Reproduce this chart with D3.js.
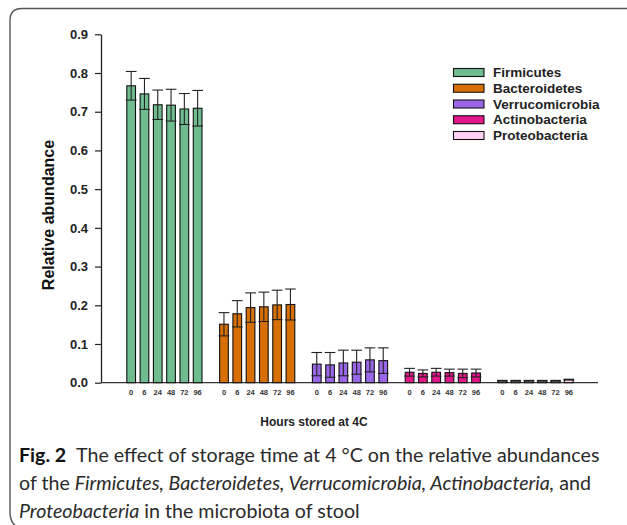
<!DOCTYPE html>
<html>
<head>
<meta charset="utf-8">
<script src="https://cdn.jsdelivr.net/npm/d3@7"></script>
<style>
  html, body { margin: 0; padding: 0; background: #fff; }
  svg { display: block; }
</style>
</head>
<body>
<svg id="chart" width="627" height="525"></svg>
<script>
// ---------- data ----------
const phyla = ["Firmicutes", "Bacteroidetes", "Verrucomicrobia", "Actinobacteria", "Proteobacteria"];
const hours = ["0", "6", "24", "48", "72", "96"];
const firmicutes      = [0.767, 0.746, 0.718, 0.717, 0.707, 0.709];
const firmicutesErr   = [0.037, 0.040, 0.038, 0.041, 0.040, 0.046];
const bacteroidetes   = [0.151, 0.178, 0.194, 0.196, 0.201, 0.202];
const bacteroidetesErr= [0.030, 0.034, 0.038, 0.038, 0.038, 0.040];
const verruco         = [0.048, 0.046, 0.051, 0.053, 0.059, 0.057];
const verrucoErr      = [0.030, 0.032, 0.033, 0.031, 0.031, 0.033];
const actino          = [0.027, 0.024, 0.027, 0.026, 0.024, 0.025];
const actinoErr       = [0.010, 0.009, 0.010, 0.009, 0.011, 0.010];
const proteo          = [0.005, 0.005, 0.005, 0.005, 0.005, 0.008];
const proteoErr       = [0.001, 0.001, 0.001, 0.001, 0.001, 0.001];
const yTicks = [0, 0.1, 0.2, 0.3, 0.4, 0.5, 0.6, 0.7, 0.8, 0.9];
const colors = ["#6fbd8f", "#d86f05", "#9a66e8", "#e3168a", "#ffd2f6"];

const values = [firmicutes, bacteroidetes, verruco, actino, proteo];
const errors = [firmicutesErr, bacteroidetesErr, verrucoErr, actinoErr, proteoErr];
const rows = [];
phyla.forEach((p, i) => hours.forEach((h, j) => rows.push({phylum: p, hour: h, v: values[i][j], e: errors[i][j], c: colors[i]})));

// ---------- layout ----------
const svg = d3.select("#chart");
const font = "'Liberation Sans', Arial, sans-serif";

// frame
svg.append("path")
  .attr("d", "M627,8.5 H22 Q10,8.5 10,20.5 V512 Q10,522 16,526")
  .attr("fill", "none").attr("stroke", "#555").attr("stroke-width", 1.4);

const y = d3.scaleLinear().domain([0, 0.9]).range([382.7, 34.3]);
const xg = d3.scaleBand().domain(phyla).range([118, 582]).paddingInner(0.19).paddingOuter(0.095);
const xi = d3.scaleBand().domain(hours).range([0, xg.bandwidth()]).paddingInner(0.346).paddingOuter(0);

// y axis
const yAxis = svg.append("g").attr("transform", "translate(101,0)")
  .call(d3.axisLeft(y).tickValues(yTicks).tickFormat(d3.format(".1f")).tickSize(6).tickPadding(7).tickSizeOuter(0));
yAxis.select(".domain").attr("stroke", "#222").attr("stroke-width", 1.3);
yAxis.selectAll(".tick line").attr("stroke", "#222").attr("stroke-width", 1.2);
yAxis.selectAll(".tick text").attr("font-family", font).attr("font-size", 13).attr("font-weight", "bold").attr("fill", "#222");

// x axis line
svg.append("line").attr("x1", 101).attr("x2", 598).attr("y1", y(0)).attr("y2", y(0))
  .attr("stroke", "#333").attr("stroke-width", 1.3);

// bars
const bars = svg.append("g");
bars.selectAll("rect").data(rows).join("rect")
  .attr("x", d => xg(d.phylum) + xi(d.hour))
  .attr("width", xi.bandwidth())
  .attr("y", d => y(d.v))
  .attr("height", d => y(0) - y(d.v))
  .attr("fill", d => d.c)
  .attr("stroke", "#111").attr("stroke-width", 1.1);

// error bars
const eb = svg.append("g").attr("stroke", "#222").attr("stroke-width", 1.1);
rows.forEach(d => {
  const cx = xg(d.phylum) + xi(d.hour) + xi.bandwidth() / 2;
  const hw = xi.bandwidth() / 2 + 1;
  eb.append("line").attr("x1", cx).attr("x2", cx).attr("y1", y(d.v + d.e)).attr("y2", y(Math.max(0, d.v - d.e)));
  eb.append("line").attr("x1", cx - hw).attr("x2", cx + hw).attr("y1", y(d.v + d.e)).attr("y2", y(d.v + d.e));
  eb.append("line").attr("x1", cx - hw).attr("x2", cx + hw).attr("y1", y(Math.max(0, d.v - d.e))).attr("y2", y(Math.max(0, d.v - d.e)));
});

// hour labels under bars
svg.append("g").selectAll("text").data(rows).join("text")
  .attr("x", d => xg(d.phylum) + xi(d.hour) + xi.bandwidth() / 2)
  .attr("y", 395)
  .attr("text-anchor", "middle")
  .attr("font-family", font).attr("font-size", 7.5).attr("font-weight", "bold").attr("fill", "#333")
  .text(d => d.hour);

// axis titles
svg.append("text").attr("x", 314).attr("y", 426).attr("text-anchor", "middle")
  .attr("font-family", font).attr("font-size", 12).attr("font-weight", "bold").attr("fill", "#222")
  .text("Hours stored at 4C");
svg.append("text").attr("transform", "translate(54,215) rotate(-90)").attr("text-anchor", "middle")
  .attr("font-family", font).attr("font-size", 16).attr("font-weight", "bold").attr("fill", "#111")
  .text("Relative abundance");

// legend
const lg = svg.append("g");
phyla.forEach((p, i) => {
  const cy = 72.5 + i * 15.75;
  lg.append("rect").attr("x", 453.5).attr("y", cy - 4).attr("width", 30.5).attr("height", 8)
    .attr("fill", colors[i]).attr("stroke", "#111").attr("stroke-width", 1.1);
  lg.append("text").attr("x", 493).attr("y", cy + 4.7)
    .attr("font-family", font).attr("font-size", 13.5).attr("font-weight", "bold").attr("fill", "#222")
    .text(p);
});

// caption
const capFont = "Lato, 'Open Sans', sans-serif";
const cap = svg.append("g").attr("font-family", capFont).attr("fill", "#2a2a2a");
const l1 = cap.append("text").attr("x", 19).attr("y", 462);
l1.append("tspan").attr("font-weight", "bold").attr("fill", "#111").text("Fig. 2");
l1.append("tspan").text("\u2002The effect of storage time at 4 °C on the relative abundances");
const l2 = cap.append("text").attr("x", 19).attr("y", 490);
l2.append("tspan").text("of the ");
l2.append("tspan").attr("font-style", "italic").text("Firmicutes, Bacteroidetes, Verrucomicrobia, Actinobacteria,");
l2.append("tspan").text(" and");
const l3 = cap.append("text").attr("x", 19).attr("y", 518);
l3.append("tspan").attr("font-style", "italic").text("Proteobacteria");
l3.append("tspan").text(" in the microbiota of stool");
cap.attr("font-size", 18);
const w = l1.node().getComputedTextLength();
cap.attr("font-size", 18 * 581 / w);
</script>
</body>
</html>
